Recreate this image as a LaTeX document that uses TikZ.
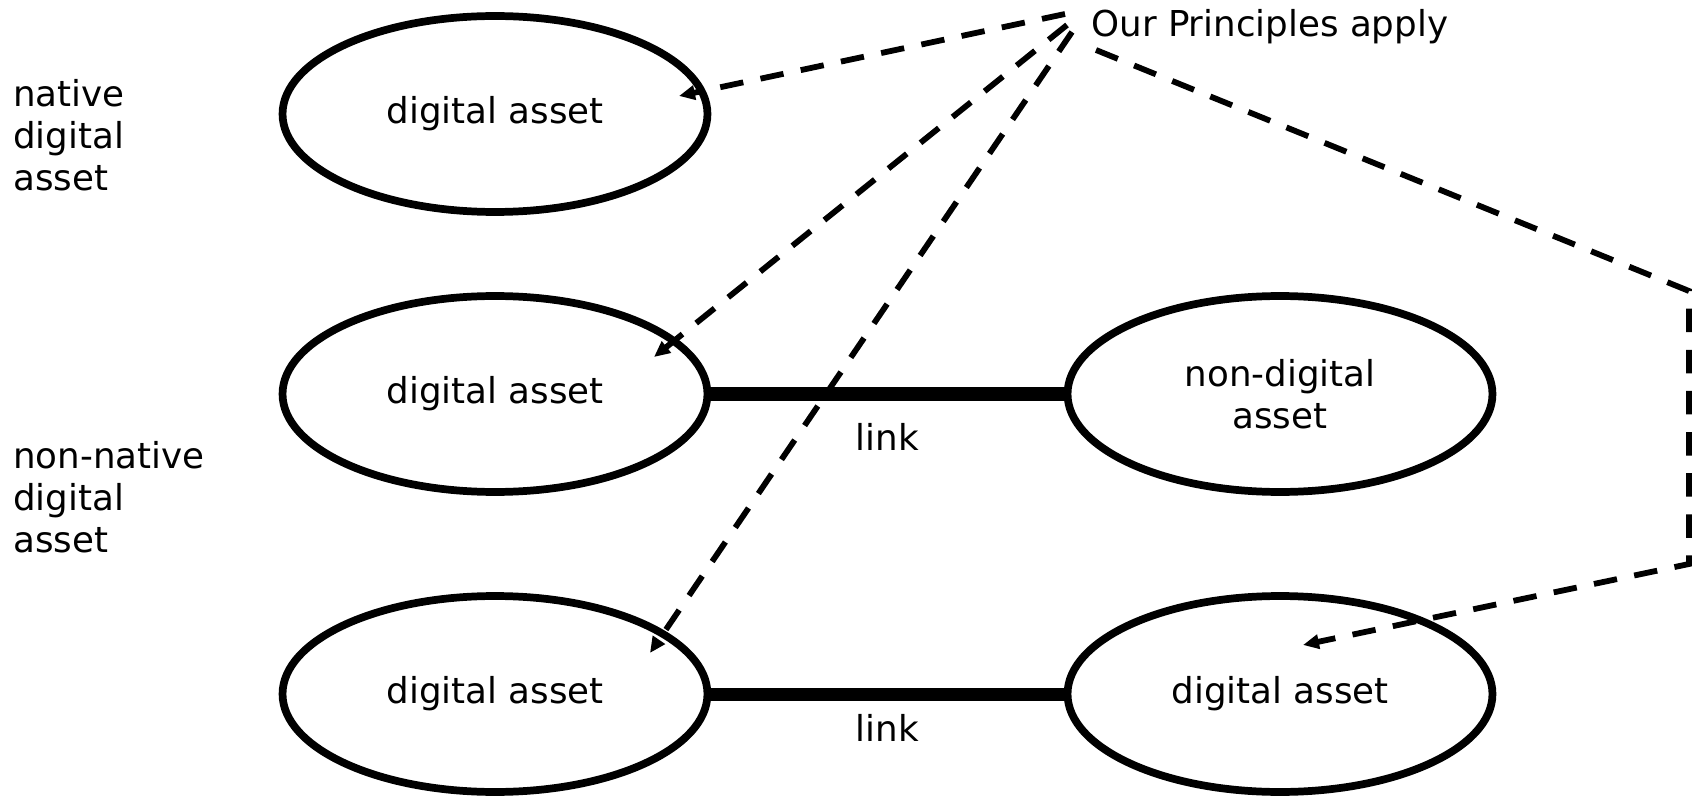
\documentclass[tikz,border=0pt]{standalone}
\usepackage{fontspec}
\setmainfont{DejaVu Sans}
\usetikzlibrary{shapes.geometric, arrows.meta, positioning, calc}
\newcommand{\assetfont}{\fontsize{20.3}{24}\selectfont}
\tikzset{
  asset/.style={ellipse, draw=black, line width=4.4pt,
    minimum width=8.5cm, minimum height=3.92cm,
    inner sep=0pt, align=center, font=\assetfont},
  sidelabel/.style={anchor=west, align=left, inner sep=0pt, font=\assetfont},
  linklabel/.style={inner sep=0pt, font=\assetfont},
  link/.style={line width=7.4pt},
  applies/.style={-{Triangle[length=0.32cm, width=0.28cm]},
    line width=3.3pt, dash pattern=on 13.4pt off 10pt}
}

\begin{document}
\begin{tikzpicture}[x=0.02cm, y=-0.02cm]
  \useasboundingbox (0,0) rectangle (1700,800);

  % assets
  \node[asset] (da1) at (495,114) {digital asset};
  \node[asset] (da2) at (495,394) {digital asset};
  \node[asset] (da3) at (495,694) {digital asset};
  \node[asset] (nd2) at (1280,394) {non-digital\\asset};
  \node[asset] (dr3) at (1280,694) {digital asset};

  % row labels
  \node[sidelabel] (native) at (13,135) {native\\digital\\asset};
  \node[sidelabel] (nonnative) at (13,497) {non-native\\digital\\asset};

  \node[font=\assetfont, inner sep=0pt, anchor=base west] (principles) at (1091,37) {Our Principles apply};

  % links
  \draw[link] (da2) -- node[linklabel, below=0.46cm] (link2) {link} (nd2);
  \draw[link] (da3) -- node[linklabel, below=0.27cm] (link3) {link} (dr3);

  % where the principles apply
  \draw[applies] ($(principles.base west)+(-26,-23)$) -- ($(da1)+(184,-18)$);
  \draw[applies] ($(principles.base west)+(-24,-12)$) -- ($(da2)+(159,-37)$);
  \draw[applies] ($(principles.base west)+(-19,-5)$) -- ($(da3)+(155,-41)$);
  \draw[applies] ($(principles.base west)+(5,13)$) -- (1689,291) -- (1689,564) -- ($(dr3)+(23,-49)$);
\end{tikzpicture}
\end{document}
